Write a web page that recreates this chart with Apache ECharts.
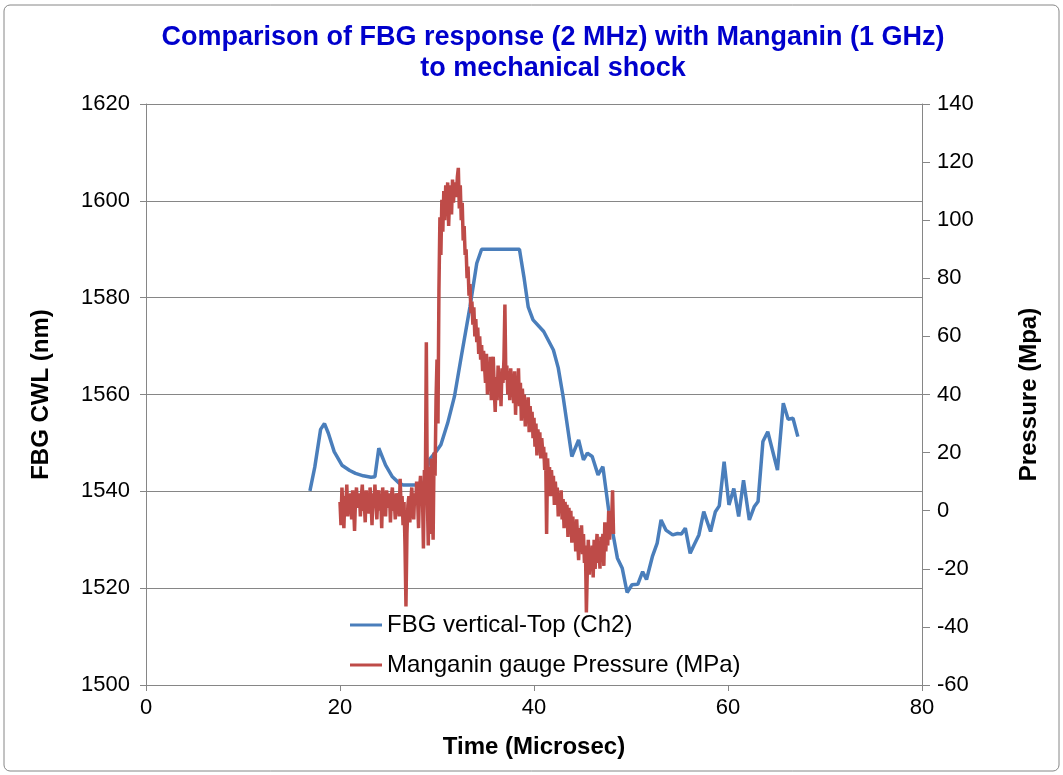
<!DOCTYPE html>
<html>
<head>
<meta charset="utf-8">
<title>FBG vs Manganin</title>
<script src="https://cdn.jsdelivr.net/npm/echarts@6/dist/echarts.min.js"></script>
<style>
  html, body { margin: 0; padding: 0; background: #fff; }
  #chart { width: 1063px; height: 775px; }
</style>
</head>
<body>
<div id="chart"></div>
<script>
// FBG centre wavelength (nm) vs time (microsec)
const fbgTime = [16.9, 17.4, 18.0, 18.4, 18.8, 19.4, 20.2, 21.0, 21.6, 22.4, 23.2, 23.6, 24.0, 24.7, 25.4, 26.1, 26.5, 28.4, 28.7, 29.2,
  29.9, 30.4, 31.1, 31.8, 32.5, 33.4, 34.1, 34.6, 38.5, 38.96, 39.4, 39.9, 41.0, 42.0, 42.5, 43.0, 43.9, 44.6, 45.1, 45.5,
  46.0, 46.6, 47.1, 47.7, 48.6, 49.1, 49.6, 50.1, 50.7, 51.2, 51.6, 52.2, 52.7, 53.1, 53.6, 54.3, 54.8, 55.2, 55.6, 56.1,
  56.5, 57.0, 57.5, 58.2, 58.7, 59.1, 59.6, 60.1, 60.6, 61.1, 61.6, 62.2, 62.7, 63.1, 63.6, 64.1, 65.1, 65.7, 66.2, 66.7, 67.2];
const fbgCwl = [1540.1, 1545.0, 1552.8, 1554.0, 1552.0, 1548.2, 1545.4, 1544.3, 1543.7, 1543.2, 1542.9, 1543.0, 1548.9, 1545.4, 1543.0, 1541.7, 1541.3, 1541.3, 1542.0, 1546.5,
  1548.2, 1549.6, 1554.1, 1559.6, 1567.8, 1578.1, 1587.1, 1590.0, 1590.0, 1584.3, 1578.1, 1575.4, 1573.0, 1569.2, 1565.5, 1559.6, 1547.2, 1550.6, 1546.5, 1547.9,
  1547.2, 1543.4, 1545.1, 1536.1, 1526.2, 1524.1, 1519.1, 1520.7, 1520.8, 1523.4, 1521.8, 1526.5, 1529.3, 1534.1, 1532.0, 1531.0, 1531.3, 1531.2, 1532.4, 1527.2,
  1528.9, 1531.0, 1535.8, 1531.7, 1535.8, 1537.0, 1546.1, 1537.2, 1540.6, 1534.8, 1542.3, 1534.1, 1536.8, 1537.9, 1550.3, 1552.3, 1544.4, 1558.2, 1554.9, 1555.1, 1551.3];

// Manganin gauge pressure (MPa), one sample every 0.1 microsec from 20.0
const mangStart = 20.0;
const mangStep = 0.1;
const mangPressure = [
  3, -5, 8, 1, -6, 5, 2, 9, -2, 4,
  0, 6, -3, 7, 2, -7, 4, 8, 1, 3,
  6, -2, 5, 9, 0, 3, -4, 7, 2, 5,
  -1, 8, 3, -5, 6, 1, 9, 2, -3, 5,
  7, 0, 4, -6, 8, 2, 5, -2, 7, 3,
  1, 6, -4, 5, 8, 0, 3, -3, 6, 2,
  4, -2, 11, 1, 5, -5, 3, -12, -33, -8,
  2, 5, -4, 3, 8, 1, -3, 6, 2, 10,
  4, -6, 7, 12, 2, 6, -13, 14, 9, 58,
  5, -12, 15, -8, 18, 3, -10, 20, 12, 38,
  52, 30, 76, 101, 88, 107, 96, 110, 100, 112,
  104, 113, 98, 108, 112, 102, 114, 106, 113, 110,
  108, 115, 118, 104, 112, 100, 106, 93, 98, 88,
  90, 80, 84, 74, 78, 68, 72, 64, 70, 60,
  66, 58, 63, 54, 60, 52, 57, 48, 55, 50,
  44, 54, 40, 50, 42, 53, 38, 48, 53, 42,
  34, 46, 38, 50, 42, 47, 36, 49, 44, 52,
  71, 45, 50, 40, 48, 38, 49, 42, 46, 37,
  48, 33, 45, 38, 49, 36, 44, 31, 42, 35,
  40, 29, 38, 32, 39, 27, 36, 30, 34, 25,
  32, 22, 30, 19, 28, 24, 27, 18, 25, 20,
  22, 14, 20, -8, 18, 10, 15, 5, 14, 8,
  12, 2, 10, 4, 8, -2, 6, 0, 7, -3,
  4, -6, 3, -2, 2, -9, 1, -5, 0, -11,
  -2, -8, -4, -14, -3, -10, -17, -6, -12, -5,
  -15, -8, -18, -12, -35, -20, -10, -22, -14, -18,
  -12, -23, -10, -20, -14, -8, -18, -12, -20, -9,
  -16, -8, -19, -4, -14, -6, -12, 0, -10, -2,
  -4, 7, -8
];

const seriesNames = ['FBG vertical-Top (Ch2)', 'Manganin gauge Pressure (MPa)'];
const titleLines = ['Comparison of FBG response (2 MHz) with Manganin (1 GHz)', 'to mechanical shock'];

const fbgData = fbgTime.map((t, i) => [t, fbgCwl[i]]);
const mangData = mangPressure.map((p, i) => [+(mangStart + i * mangStep).toFixed(1), p]);

const font = '"Liberation Sans", Arial, sans-serif';
const axisGray = '#868686';
const plain = v => String(v);

let myChart = echarts.init(document.getElementById('chart'));
myChart.setOption({
  animation: false,
  textStyle: { fontFamily: font },
  title: {
    text: titleLines.join('\n'),
    left: 548,
    top: 17,
    textAlign: 'center',
    textStyle: { color: '#0000CC', fontSize: 27, fontWeight: 'bold', lineHeight: 31, fontFamily: font }
  },
  graphic: [{
    type: 'rect',
    shape: { x: 4, y: 5, width: 1055, height: 766, r: 6 },
    style: { fill: 'none', stroke: axisGray, lineWidth: 1 },
    silent: true
  }],
  legend: {
    orient: 'vertical',
    left: 345,
    top: 608,
    icon: 'rect',
    itemWidth: 32,
    itemHeight: 3,
    itemGap: 16,
    data: seriesNames,
    textStyle: { fontSize: 24, color: '#000', fontFamily: font }
  },
  grid: { left: 146, right: 141, top: 104, bottom: 90 },
  xAxis: {
    type: 'value',
    min: 0, max: 80, interval: 20,
    name: 'Time (Microsec)',
    nameLocation: 'middle',
    nameGap: 50,
    nameTextStyle: { fontSize: 24, fontWeight: 'bold', color: '#000' },
    axisLine: { onZero: false, lineStyle: { color: axisGray } },
    axisTick: { length: 6, lineStyle: { color: axisGray } },
    axisLabel: { fontSize: 22, color: '#000', margin: 12, formatter: plain },
    splitLine: { show: false }
  },
  yAxis: [{
    type: 'value',
    min: 1500, max: 1620, interval: 20,
    name: 'FBG CWL (nm)',
    nameLocation: 'middle',
    nameGap: 93,
    nameTextStyle: { fontSize: 24, fontWeight: 'bold', color: '#000' },
    axisLine: { show: true, onZero: false, lineStyle: { color: axisGray } },
    axisTick: { show: true, length: 6, lineStyle: { color: axisGray } },
    axisLabel: { fontSize: 22, color: '#000', margin: 16, formatter: plain },
    splitLine: { lineStyle: { color: axisGray, width: 1 } }
  }, {
    type: 'value',
    min: -60, max: 140, interval: 20,
    name: 'Pressure (Mpa)',
    nameLocation: 'middle',
    nameGap: 95,
    nameTextStyle: { fontSize: 24, fontWeight: 'bold', color: '#000' },
    axisLine: { show: true, onZero: false, lineStyle: { color: axisGray } },
    axisTick: { show: true, length: 8, lineStyle: { color: axisGray } },
    axisLabel: { fontSize: 22, color: '#000', margin: 15, formatter: plain },
    splitLine: { show: false }
  }],
  series: [{
    name: seriesNames[0],
    type: 'line',
    yAxisIndex: 0,
    data: fbgData,
    symbol: 'none',
    lineStyle: { color: '#4A7EBB', width: 3.5 },
    itemStyle: { color: '#4A7EBB' }
  }, {
    name: seriesNames[1],
    type: 'line',
    yAxisIndex: 1,
    data: mangData,
    symbol: 'none',
    lineStyle: { color: '#BE4B48', width: 3.5 },
    itemStyle: { color: '#BE4B48' }
  }]
});
</script>
</body>
</html>
